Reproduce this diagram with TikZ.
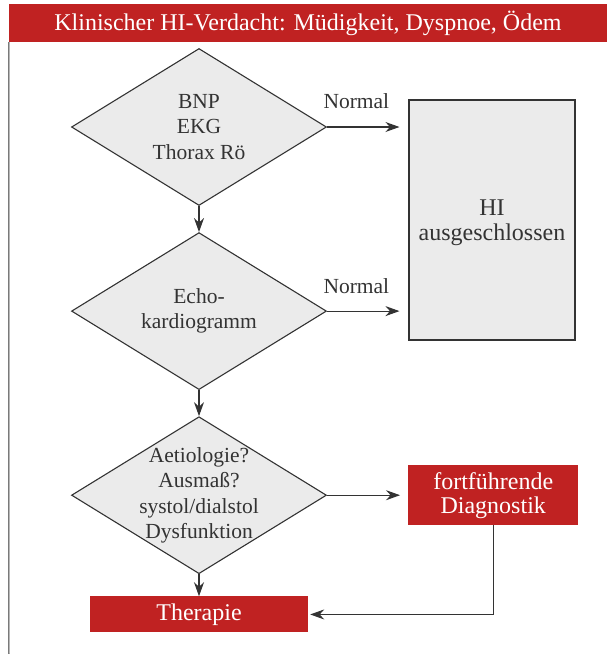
\documentclass[tikz,border=0pt]{standalone}
\usepackage{fontspec}
\setmainfont{Liberation Serif}
\usepackage{tikz}
\usetikzlibrary{arrows.meta}
\usetikzlibrary{positioning}
\usepgflibrary{shapes.geometric}

\definecolor{hired}{HTML}{C02222}
\definecolor{higrey}{HTML}{EBEBEB}
\definecolor{hiline}{HTML}{333333}

\begin{document}
\begin{tikzpicture}[
      titlebar/.style={rectangle, fill=hired, text=white, minimum width=598pt, minimum height=38pt,
                       inner sep=0pt, font=\fontsize{24}{28}\selectfont},
      decision/.style={diamond, draw=hiline, line width=1.1pt, fill=higrey, inner sep=0pt,
                       minimum width=255pt, minimum height=157pt},
      dtext/.style={align=center, text=hiline, font=\fontsize{21.5}{25.5}\selectfont},
      outbox/.style={rectangle, draw=hiline, line width=1.1pt, fill=higrey, text=hiline, align=center,
                     minimum width=166pt, minimum height=240pt, font=\fontsize{24}{25}\selectfont},
      redbox/.style={rectangle, fill=hired, text=white, align=center, inner sep=0pt,
                     font=\fontsize{24}{24}\selectfont},
      flow/.style={draw=hiline, line width=1.1pt, -{Stealth[length=14pt,width=10pt]}},
      lbl/.style={text=hiline, font=\fontsize{21.5}{24}\selectfont},
      node distance=26pt
    ]
    \useasboundingbox (0,0) rectangle (607pt,-654pt);

    \node [titlebar] (title) at (308pt,-23pt) {Klinischer HI-Verdacht: Müdigkeit, Dyspnoe, Ödem} ;
    \coordinate (frameend) at (9pt,-654pt) ;
    \draw [hiline, line width=1pt] (title.south west) -- (frameend) ;

    \node [decision] (basis) at (199pt,-127pt) {} ;
    \node [dtext] at (basis) {BNP\\EKG\\Thorax Rö} ;
    \node [decision] (echo) [below=of basis] {} ;
    \node [dtext] at (echo) {Echo-\\kardiogramm} ;
    \node [decision] (ursache) [below=of echo] {} ;
    \node [dtext] at (ursache) {Aetiologie?\\Ausmaß?\\systol/dialstol\\Dysfunktion} ;

    \node [outbox, text depth=-11pt] (ausschluss) at (492pt,-220pt) {HI\\ausgeschlossen} ;
    \node [redbox, minimum width=170pt, minimum height=60pt] (diagnostik) [right=81pt of ursache] {fortführende\\Diagnostik} ;
    \node [redbox, minimum width=218pt, minimum height=36pt] (therapie) [below=22pt of ursache] {Therapie} ;

    \draw [flow] (basis) -- (echo) ;
    \draw [flow] (echo) -- (ursache) ;
    \draw [flow] (ursache) -- (therapie) ;
    \draw [flow, shorten >=9pt] (basis.east) -- (ausschluss.west |- basis.east)
          node [lbl, above=14pt, pos=0.36] {Normal} ;
    \draw [flow, shorten >=9pt] (echo.east) -- (ausschluss.west |- echo.east)
          node [lbl, above=14pt, pos=0.36] {Normal} ;
    \draw [flow, shorten >=8pt] (ursache.east) -- (diagnostik.west) ;
    \draw [flow, shorten >=2pt] (diagnostik.south) |- (therapie.east) ;
  \end{tikzpicture}
\end{document}
